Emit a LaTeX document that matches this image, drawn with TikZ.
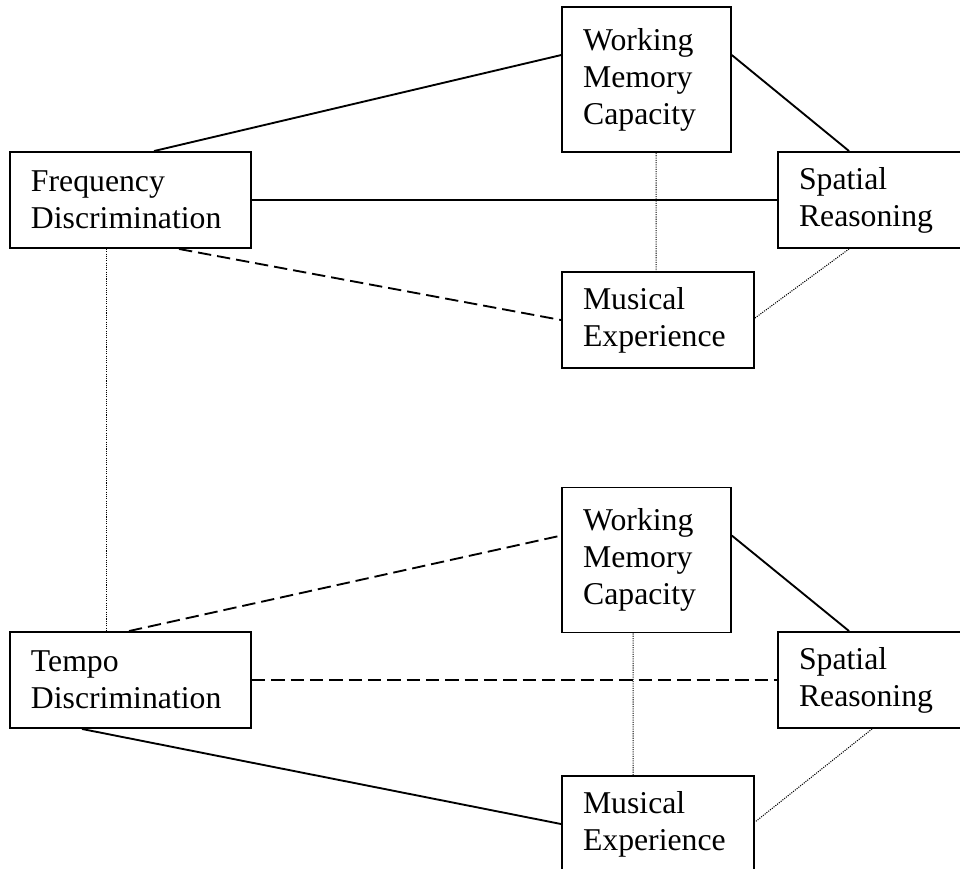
\documentclass[tikz,border=0pt]{standalone}
\usepackage{fontspec}
\setmainfont{Liberation Serif}
\usetikzlibrary{calc}
\begin{document}
\begin{tikzpicture}[x=0.75pt,y=-0.75pt,
  vbox/.style={draw,line width=1.45pt,inner ysep=0pt,inner xsep=15.75pt,align=left,
    font=\fontsize{23.8}{27.75}\selectfont},
  solidline/.style={line width=1.4pt},
  dashline/.style={line width=1.4pt,dash pattern=on 10pt off 4.5pt},
  dotline/.style={line width=0.8pt,dash pattern=on 0.8pt off 0.9pt}]
\useasboundingbox (0,0) rectangle (960,868);
% top group
\node[vbox,text width=95pt,minimum height=108.75pt] (wmc) at (646.5,79.5) {Working\\Memory\\Capacity};
\node[vbox,text width=149.25pt,minimum height=72pt] (fd) at (130.5,200) {Frequency\\Discrimination};
\node[vbox,text width=112.5pt,minimum height=72pt] (sr) at (874,200) {Spatial\\Reasoning};
\node[vbox,text width=112.5pt,minimum height=72pt] (me) at (658,320) {Musical\\Experience};
% bottom group
\node[vbox,text width=95pt,minimum height=108.75pt] (wmcb) at (646.5,560) {Working\\Memory\\Capacity};
\node[vbox,text width=149.25pt,minimum height=72pt] (td) at (130.5,680) {Tempo\\Discrimination};
\node[vbox,text width=112.5pt,minimum height=72pt] (srb) at (874,680) {Spatial\\Reasoning};
\node[vbox,text width=112.5pt,minimum height=72pt] (meb) at (658,824) {Musical\\Experience};
% top connectors
\draw[solidline] ($(fd.north west)+(145,0)$) -- ($(wmc.north west)+(0,49)$);
\draw[solidline] ($(wmc.north east)+(0,49)$) -- ($(sr.north west)+(72,0)$);
\draw[solidline] (fd.east) -- (sr.west);
\draw[dashline] ($(fd.south west)+(170,0)$) -- (me.west);
\draw[dotline] ($(wmc.south west)+(95,0)$) -- ($(me.north west)+(95,0)$);
\draw[dotline] ($(sr.south west)+(72,0)$) -- ($(me.east)+(0,-2)$);
\draw[dotline] ($(fd.south west)+(97,0)$) -- ($(td.north west)+(97,0)$);
% bottom connectors
\draw[dashline] ($(td.north west)+(120,0)$) -- ($(wmcb.north west)+(0,49)$);
\draw[solidline] ($(wmcb.north east)+(0,49)$) -- ($(srb.north west)+(72,0)$);
\draw[dashline] (td.east) -- (srb.west);
\draw[solidline] ($(td.south west)+(73,0)$) -- (meb.west);
\draw[dotline] ($(wmcb.south west)+(72,0)$) -- ($(meb.north west)+(72,0)$);
\draw[dotline] ($(srb.south west)+(95,0)$) -- ($(meb.east)+(0,-2)$);
\end{tikzpicture}
\end{document}
